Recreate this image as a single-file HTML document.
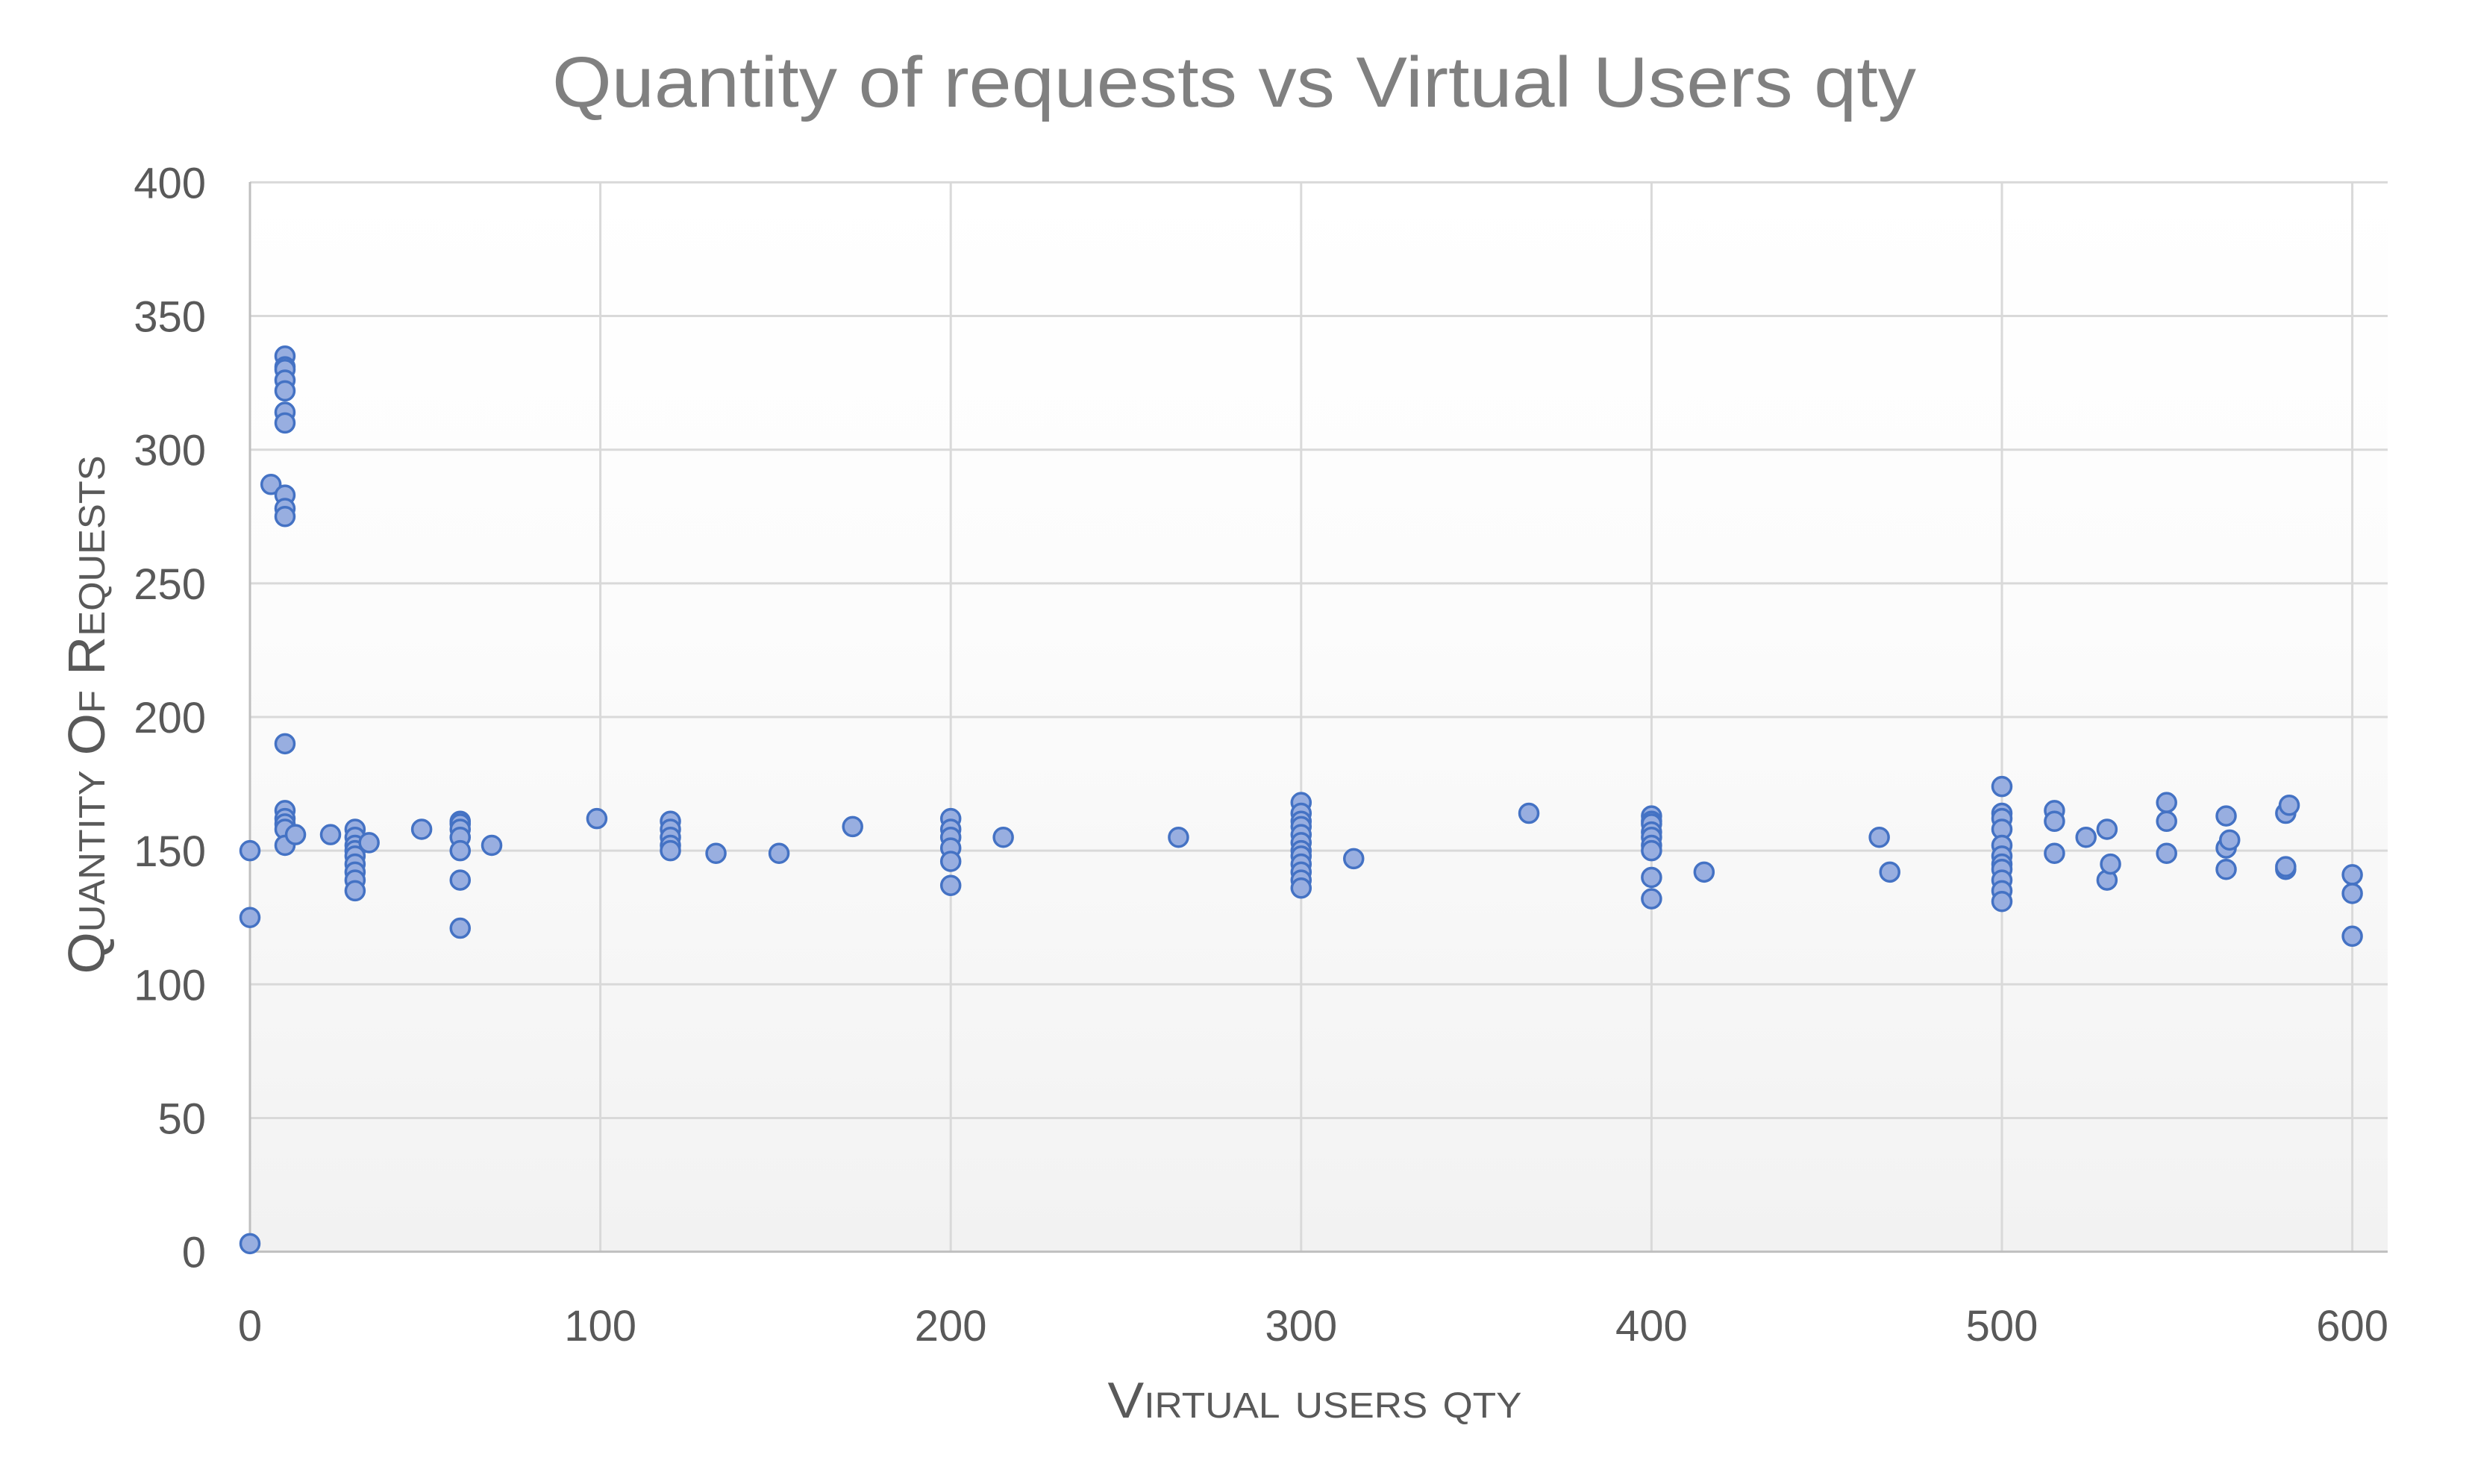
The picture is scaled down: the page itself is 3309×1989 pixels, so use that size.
<!DOCTYPE html>
<html><head><meta charset="utf-8">
<style>
html,body{margin:0;padding:0;background:#fff;}
svg{display:block;}
text{font-family:"Liberation Sans",sans-serif;}
</style></head>
<body>
<svg id="chart" width="3309" height="1989" viewBox="0 0 3309 1989" xmlns="http://www.w3.org/2000/svg">
<defs>
<linearGradient id="bg" x1="0" y1="0" x2="0" y2="1">
<stop offset="0" stop-color="#ffffff"/>
<stop offset="0.4" stop-color="#fcfcfc"/>
<stop offset="1" stop-color="#f2f2f2"/>
</linearGradient>
</defs>
<rect x="335" y="244" width="2865" height="1434" fill="url(#bg)"/>
<g id="grid"></g>
<g id="axes"></g>
<g id="points"></g>
<text x="1654" y="143" text-anchor="middle" font-size="96" fill="#808080" textLength="1828" lengthAdjust="spacingAndGlyphs">Quantity of requests vs Virtual Users qty</text>
<text x="1762" y="1900" text-anchor="middle" font-size="68" fill="#595959" style="font-variant:small-caps" textLength="555" lengthAdjust="spacingAndGlyphs">Virtual users qty</text>
<text transform="translate(140,958) rotate(-90)" text-anchor="middle" font-size="70" fill="#595959" style="font-variant:small-caps" textLength="695" lengthAdjust="spacingAndGlyphs">Quantity Of Requests</text>
</svg>
<script>
const xTicks = [0, 100, 200, 300, 400, 500, 600];
const yTicks = [0, 50, 100, 150, 200, 250, 300, 350, 400];
const usersX = [0,0,0,6,10,10,10,10,10,10,10,10,10,10,10,10,10,10,10,10,13,23,30,30,30,30,30,30,30,30,30,34,49,60,60,60,60,60,60,60,69,99,120,120,120,120,120,133,151,172,200,200,200,200,200,200,215,265,300,300,300,300,300,300,300,300,300,300,300,300,315,365,400,400,400,400,400,400,400,400,400,415,465,468,500,500,500,500,500,500,500,500,500,500,500,515,515,515,524,530,530,531,547,547,547,564,564,564,565,581,581,581,582,600,600,600];
const requestsY = [150,125,3,287,335,331,330,326,322,314,310,283,278,275,190,165,162,160,158,152,156,156,158,155,152,150,148,145,142,139,135,153,158,161,160,158,155,150,139,121,152,162,161,158,155,152,150,149,149,159,162,158,155,151,146,137,155,155,168,164,161,159,156,153,150,148,145,142,139,136,147,164,163,161,160,157,155,152,150,140,132,142,155,142,174,164,162,158,152,148,145,143,139,135,131,165,161,149,155,158,139,145,168,161,149,163,151,143,154,164,143,144,167,141,134,118];

const X0 = 335, XS = 4.696, Y0 = 1677.6, YS = 3.583, XR = 3200, YT = 244;
const NS = "http://www.w3.org/2000/svg";
function xPos(v){ return X0 + v * XS; }
function yPos(v){ return Y0 - v * YS; }
function mk(tag, attrs, parent){
  const e = document.createElementNS(NS, tag);
  for (const k in attrs) e.setAttribute(k, attrs[k]);
  parent.appendChild(e);
  return e;
}
const grid = document.getElementById('grid');
const axes = document.getElementById('axes');
const pts = document.getElementById('points');

yTicks.forEach(t => {
  if (t > 0) {
    const l = mk('line', {x1: X0, x2: XR, y1: yPos(t), y2: yPos(t), stroke: '#d9d9d9', 'stroke-width': 3}, grid);
    
    
  }
  const tx = mk('text', {x: 276, y: yPos(t) + 21, 'text-anchor': 'end', 'font-size': 58, fill: '#595959'}, axes);
  tx.textContent = t;
  
  
});
xTicks.forEach(t => {
  if (t > 0) {
    const l = mk('line', {x1: xPos(t), x2: xPos(t), y1: YT, y2: Y0, stroke: '#d9d9d9', 'stroke-width': 3}, grid);
    
    
  }
  const tx = mk('text', {x: xPos(t), y: 1797, 'text-anchor': 'middle', 'font-size': 58, fill: '#595959'}, axes);
  tx.textContent = t;
  
  
});
const ax = mk('line', {x1: X0, x2: XR, y1: Y0, y2: Y0, stroke: '#bfbfbf', 'stroke-width': 3}, axes);


const ay = mk('line', {x1: X0, x2: X0, y1: YT, y2: Y0, stroke: '#bfbfbf', 'stroke-width': 3}, axes);



usersX.forEach((u, i) => {
  const c = mk('circle', {cx: xPos(u), cy: yPos(requestsY[i]), r: 12.5, fill: '#98aee0', stroke: '#4472c4', 'stroke-width': 3.5}, pts);
  
  
});
</script>
</body></html>
